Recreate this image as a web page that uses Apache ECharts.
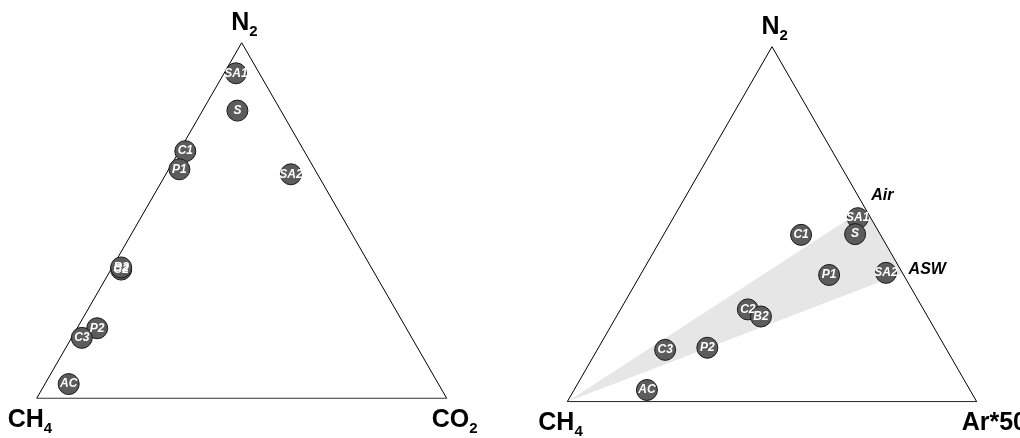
<!DOCTYPE html>
<html>
<head>
<meta charset="utf-8">
<script src="https://cdn.jsdelivr.net/npm/echarts@6/dist/echarts.min.js"></script>
<style>
  html, body { margin: 0; padding: 0; background: #fff; }
  #chart { width: 1020px; height: 438px; }
</style>
</head>
<body>
<div id="chart"></div>
<script>
// left diagram: CH4 - CO2 - N2 (%)
var samplesA = ["SA1", "S", "C1", "P1", "SA2", "C2", "B2", "P2", "C3", "AC"];
var ch4A = [5.7, 10.6, 29.0, 33.0, 6.5, 61.3, 61.0, 75.4, 80.5, 90.2];
var co2A = [2.9, 8.5, 1.5, 2.6, 30.5, 2.5, 2.2, 4.9, 2.5, 5.8];
var n2A = [91.4, 80.9, 69.5, 64.4, 63.0, 36.2, 36.8, 19.7, 17.0, 4.0];

// right diagram: CH4 - Ar*50 - N2 (%)
var samplesB = ["SA1", "S", "C1", "P1", "SA2", "C2", "B2", "P2", "C3", "AC"];
var ch4B = [3.2, 6.1, 19.4, 18.2, 4.0, 42.9, 40.7, 58.2, 68.8, 78.9];
var arB = [45.1, 46.7, 33.6, 46.1, 59.7, 31.1, 35.3, 26.6, 16.6, 17.8];
var n2B = [51.7, 47.2, 47.0, 35.7, 36.3, 26.0, 24.0, 15.2, 14.6, 3.3];

// reference points on the Ar*50 - N2 side
var refNames = ["Air", "ASW"];
var refCh4 = [0, 0];
var refAr = [45.5, 63.8];
var refN2 = [54.5, 36.2];

var H = Math.sqrt(3) / 2;
// ternary (left corner, right corner, top corner) -> cartesian
function tern(a, b, c) {
  var s = a + b + c;
  b = b / s * 100;
  c = c / s * 100;
  return [b + c / 2, c * H];
}
var corners = [tern(100, 0, 0), tern(0, 100, 0), tern(0, 0, 100), tern(100, 0, 0)];

var font = "Arial, 'Liberation Sans', sans-serif";

function pointData(names, a, b, c) {
  return names.map(function (n, i) {
    return { name: n, value: tern(a[i], b[i], c[i]) };
  });
}

var pointStyle = {
  type: "scatter",
  symbol: "circle",
  symbolSize: 21,
  itemStyle: { color: "#5c5c5c", borderColor: "#1a1a1a", borderWidth: 1, opacity: 1 },
  label: {
    show: true,
    position: "inside",
    formatter: "{b}",
    color: "#fff",
    fontSize: 12,
    fontWeight: "bold",
    fontStyle: "italic",
    fontFamily: font
  },
  z: 4,
  silent: true
};

var chart = echarts.init(document.getElementById("chart"));

var wedge = [
  tern(100, 0, 0),
  tern(refCh4[0], refAr[0], refN2[0]),
  tern(refCh4[1], refAr[1], refN2[1])
];

var option = {
  animation: false,
  backgroundColor: "#fff",
  grid: [
    { left: 36.7, top: 42.7, width: 410, height: 355.6 },
    { left: 567.3, top: 46.7, width: 409.4, height: 355 }
  ],
  xAxis: [
    { type: "value", gridIndex: 0, min: 0, max: 100, show: false },
    { type: "value", gridIndex: 1, min: 0, max: 100, show: false }
  ],
  yAxis: [
    { type: "value", gridIndex: 0, min: 0, max: 100 * H, show: false },
    { type: "value", gridIndex: 1, min: 0, max: 100 * H, show: false }
  ],
  series: [
    {
      type: "custom",
      xAxisIndex: 1,
      yAxisIndex: 1,
      silent: true,
      z: 1,
      data: wedge,
      renderItem: function (params, api) {
        if (params.dataIndex !== 0) return;
        return {
          type: "polygon",
          shape: { points: wedge.map(function (p) { return api.coord(p); }) },
          style: { fill: "#e6e6e6" }
        };
      }
    },
    {
      type: "line",
      xAxisIndex: 0,
      yAxisIndex: 0,
      data: corners,
      symbol: "none",
      silent: true,
      lineStyle: { color: "#000", width: 1 },
      z: 2
    },
    {
      type: "line",
      xAxisIndex: 1,
      yAxisIndex: 1,
      data: corners,
      symbol: "none",
      silent: true,
      lineStyle: { color: "#000", width: 1 },
      z: 2
    },
    Object.assign({}, pointStyle, {
      xAxisIndex: 0,
      yAxisIndex: 0,
      data: pointData(samplesA, ch4A, co2A, n2A)
    }),
    Object.assign({}, pointStyle, {
      xAxisIndex: 1,
      yAxisIndex: 1,
      data: pointData(samplesB, ch4B, arB, n2B)
    }),
    {
      type: "scatter",
      xAxisIndex: 1,
      yAxisIndex: 1,
      symbolSize: 0,
      silent: true,
      itemStyle: { opacity: 1 },
      data: pointData(refNames, refCh4, refAr, refN2),
      label: {
        show: true,
        position: "right",
        distance: 0,
        formatter: "{b}",
        color: "#000",
        textBorderWidth: 0,
        fontSize: 16,
        fontWeight: "bold",
        fontStyle: "italic",
        fontFamily: font
      },
      labelLayout: function (p) {
        return p.dataIndex === 0 ? { dx: 6, dy: -13 } : { dx: 6, dy: -4 };
      },
      z: 3
    }
  ]
};
chart.setOption(option);

// corner titles with subscripts
var ctx = document.createElement("canvas").getContext("2d");
function textW(t, size) {
  ctx.font = "bold " + size + "px " + font;
  return ctx.measureText(t).width;
}
function title(main, sub, x, baseline) {
  var els = [{
    type: "text", left: x, top: baseline - 21,
    style: { text: main, font: "bold 25px " + font, fill: "#000" }
  }];
  if (sub) {
    els.push({
      type: "text", left: x + textW(main, 25), top: baseline - 7,
      style: { text: sub, font: "bold 15px " + font, fill: "#000" }
    });
  }
  return els;
}
var g = [];
[0, 1].forEach(function (gi) {
  var bl = chart.convertToPixel({ gridIndex: gi }, corners[0]);
  var br = chart.convertToPixel({ gridIndex: gi }, corners[1]);
  var tp = chart.convertToPixel({ gridIndex: gi }, corners[2]);
  g = g.concat(title("N", "2", tp[0] - 10.5, tp[1] - 11));
  g = g.concat(title("CH", "4", bl[0] - 29, bl[1] + 30));
  if (gi === 0) g = g.concat(title("CO", "2", br[0] - 15, br[1] + 30));
  else g = g.concat(title("Ar*50", "", br[0] - 15, br[1] + 30));
});
chart.setOption({ graphic: g });
</script>
</body>
</html>
